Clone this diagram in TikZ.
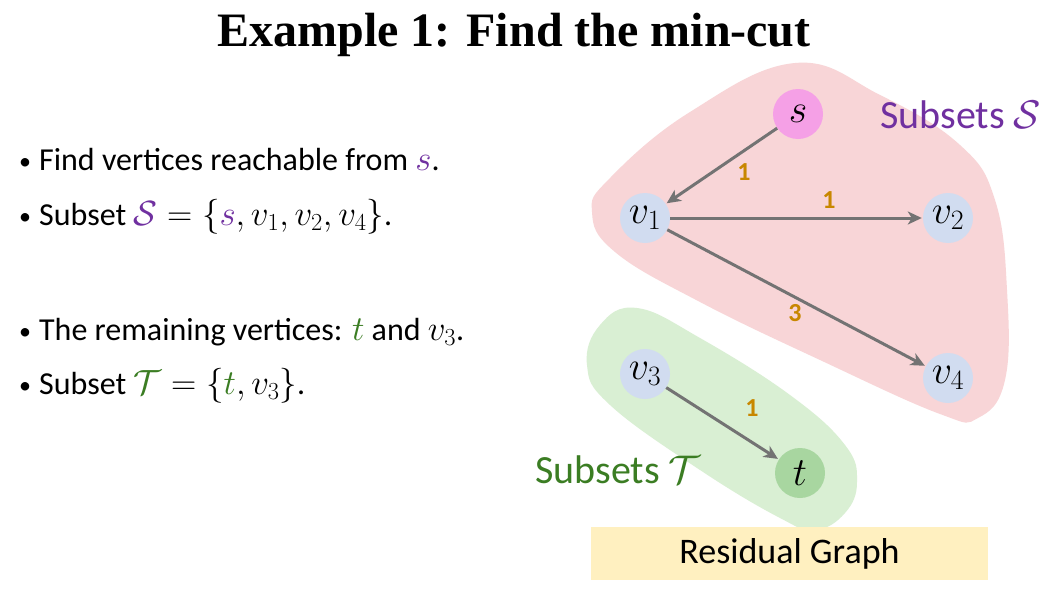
\RequirePackage{fix-cm}
\documentclass[tikz,border=0pt]{standalone}
\usepackage{fontspec}
\setmainfont{Carlito}
\newfontfamily\titlefont{Liberation Serif}
\usetikzlibrary{arrows.meta}
\definecolor{redblob}{RGB}{248,213,215}
\definecolor{greenblob}{RGB}{217,239,211}
\definecolor{snode}{RGB}{245,160,230}
\definecolor{vnode}{RGB}{209,220,240}
\definecolor{tnode}{RGB}{168,214,160}
\definecolor{edgegray}{RGB}{115,115,115}
\definecolor{wlabel}{RGB}{200,135,0}
\definecolor{spurple}{RGB}{112,48,160}
\definecolor{tgreen}{RGB}{59,125,35}
\definecolor{boxyellow}{RGB}{255,240,192}
\newcommand{\mybul}{\raisebox{1pt}{\fontsize{24}{28}\selectfont\textbullet}\hspace{8pt}}
\newcommand{\bm}[1]{{\fontsize{35}{38}\selectfont$#1$}}
\tikzset{
  vert/.style={circle, minimum size=50pt, inner sep=0pt, font=\fontsize{40}{46}\selectfont},
  edge/.style={draw=edgegray, line width=3pt, -{Stealth[length=14pt,width=13pt,inset=4pt]}, shorten >=1pt},
  wt/.style={text=wlabel, font=\bfseries\fontsize{26}{30}\selectfont},
  bul/.style={anchor=base west, inner sep=0pt, font=\fontsize{32}{38}\selectfont},
}
\begin{document}
\begin{tikzpicture}[x=1pt,y=-1pt]
\useasboundingbox[fill=white] (0,0) rectangle (1060,605);
% title
\node[anchor=base, inner sep=0pt, font=\titlefont\bfseries\fontsize{48}{56}\selectfont] (title) at (514,46) {Example 1: Find the min-cut};
% bullets
\node[bul] (b1) at (19,170) {\mybul Find vertices reachable from \bm{\textcolor{spurple}{s}}.};
\node[bul] (b2) at (19,225) {\mybul Subset \bm{\textcolor{spurple}{\mathcal{S}}=\{\textcolor{spurple}{s},v_1,v_2,v_4\}}.};
\node[bul] (b3) at (19,340) {\mybul The remaining vertices: \bm{\textcolor{tgreen}{t}} and \bm{v_3}.};
\node[bul] (b4) at (19,394) {\mybul Subset \bm{\textcolor{tgreen}{\mathcal{T}}=\{\textcolor{tgreen}{t},v_3\}}.};
% blobs
\fill[redblob] plot[smooth cycle, tension=0.7] coordinates {(795,63) (880,95) (960,145) (995,200) (1007,290) (1005,380) (978,418) (940,414) (820,360) (700,302) (615,252) (592,212) (610,178) (690,112)};
\fill[greenblob] plot[smooth cycle, tension=0.7] coordinates {(637,308) (700,338) (790,395) (845,445) (857,482) (845,513) (815,530) (780,518) (700,470) (610,405) (587,365) (600,325)};
% nodes
\node[vert, fill=snode] (s) at (798,114) {$s$};
\node[vert, fill=vnode] (v1) at (645,218) {$v_1$};
\node[vert, fill=vnode] (v2) at (948,218) {$v_2$};
\node[vert, fill=vnode] (v4) at (948,378) {$v_4$};
\node[vert, fill=vnode] (v3) at (645,374) {$v_3$};
\node[vert, fill=tnode] (t) at (800,473) {$t$};
% edges
\draw[edge] (s) -- (v1);
\draw[edge] (v1) -- (v2);
\draw[edge] (v1) -- (v4);
\draw[edge] (v3) -- (t);
\node[wt] (w1) at (744,172) {1};
\node[wt] (w2) at (829,200) {1};
\node[wt] (w3) at (795,313) {3};
\node[wt] (w4) at (752,408) {1};
% subset labels
\node[anchor=base west, inner sep=0pt, text=spurple, font=\fontsize{40}{48}\selectfont] (sl) at (880,128) {Subsets $\mathcal{S}$};
\node[anchor=base west, inner sep=0pt, text=tgreen, font=\fontsize{40}{48}\selectfont] (tl) at (535,483) {Subsets $\mathcal{T}$};
% residual graph box
\node[fill=boxyellow, minimum width=397pt, minimum height=53pt, inner sep=0pt, font=\fontsize{36}{42}\selectfont] (rg) at (789.5,553.5) {Residual Graph};
\end{tikzpicture}
\end{document}
